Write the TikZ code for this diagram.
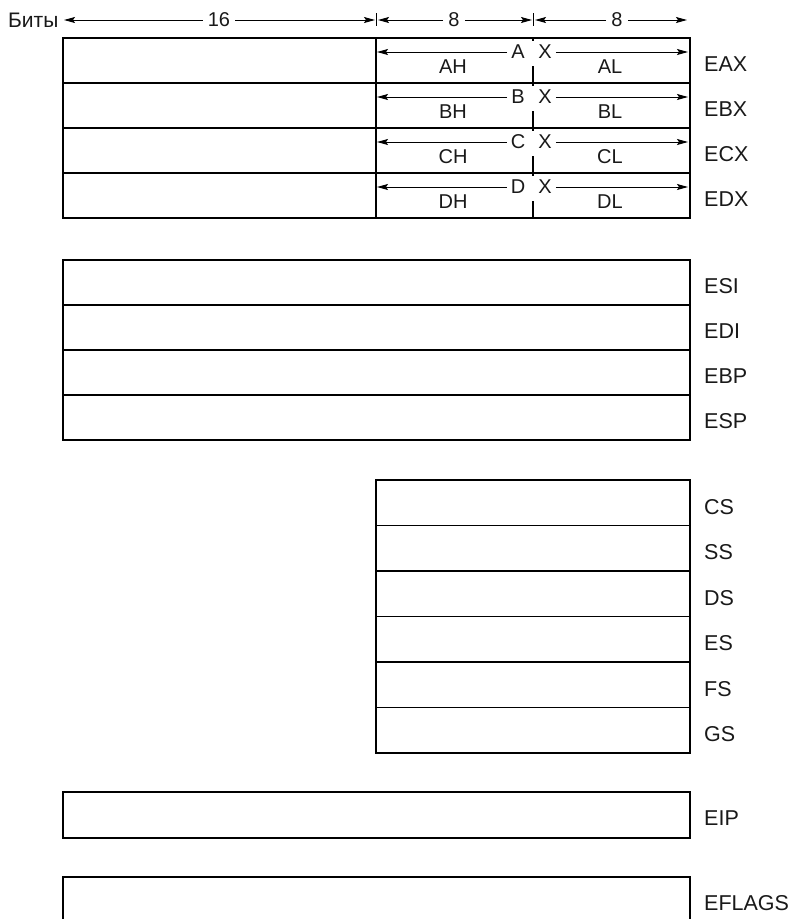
\documentclass[tikz,border=0pt]{standalone}
\usepackage{fontspec}
\setmainfont{Liberation Sans}
\usetikzlibrary{arrows.meta}
\begin{document}
\begin{tikzpicture}[x=1pt,y=-1pt,
  every node/.style={font=\fontsize{20}{24}\selectfont, text=black!90},
  reg/.style={draw, line width=1.2pt, anchor=north west, inner sep=0pt, outer sep=0pt, minimum width=627pt, minimum height=45pt},
  segreg/.style={reg, minimum width=314pt, minimum height=45.5pt},
  lbl/.style={anchor=west, inner sep=0pt, font=\fontsize{21.5}{25}\selectfont},
  gapnode/.style={inner xsep=5pt, inner ysep=0pt},
  letter/.style={inner xsep=4pt, inner ysep=0pt},
  dim/.style={line width=1pt, -{Stealth[length=11pt,width=6pt,inset=2pt]}},
  tick/.style={line width=1pt}]
\useasboundingbox (0,0) rectangle (791,919);

% header
\node[lbl, font=\fontsize{21}{25}\selectfont] (bits) at (8,20) {Биты};
\node[gapnode] (n16) at (219,20) {16};
\coordinate (h1l) at (64,20);
\coordinate (h1r) at (375,20);
\draw[dim] (n16.west) -- (h1l);
\draw[dim] (n16.east) -- (h1r);
\draw[tick] (376,13) -- (376,26);
\node[gapnode] (n8a) at (454,20) {8};
\coordinate (h2l) at (378,20);
\coordinate (h2r) at (532,20);
\draw[dim] (n8a.west) -- (h2l);
\draw[dim] (n8a.east) -- (h2r);
\draw[tick] (533,13) -- (533,26);
\node[gapnode] (n8b) at (617,20) {8};
\coordinate (h3l) at (535,20);
\coordinate (h3r) at (687,20);
\draw[dim] (n8b.west) -- (h3l);
\draw[dim] (n8b.east) -- (h3r);

% general registers
\foreach \r/\n [count=\i from 0] in {A/EAX, B/EBX, C/ECX, D/EDX} {
  \pgfmathsetmacro\t{38+45*\i}
  \node[reg] (\n) at (63,\t) {};
  \node[lbl] (\n-l) at (704,\t+26) {\n};
  \node[letter] (\r-h) at (518,\t+14) {\r};
  \node[letter] (\r-x) at (545,\t+14) {X};
  \coordinate (\r-ls) at (377,\t+14);
  \coordinate (\r-rs) at (688,\t+14);
  \draw[dim] (\r-h.west) -- (\r-ls);
  \draw[dim] (\r-x.east) -- (\r-rs);
  \node[inner sep=0pt] (\r-hi) at (453,\t+29) {\r H};
  \node[inner sep=0pt] (\r-lo) at (610,\t+29) {\r L};
  \draw[line width=1.2pt] (533,\t) -- (533,\t+3);
  \draw[line width=1.2pt] (533,\t+28) -- (533,\t+45);
}
\draw[line width=1.2pt] (376,38) -- (376,218);

% index registers
\foreach \n [count=\i from 0] in {ESI, EDI, EBP, ESP} {
  \pgfmathsetmacro\t{260+45*\i}
  \node[reg] (\n) at (63,\t) {};
  \node[lbl] (\n-l) at (704,\t+26) {\n};
}

% segment registers
\foreach \n [count=\i from 0] in {CS, SS, DS, ES, FS, GS} {
  \pgfmathsetmacro\t{480+45.5*\i}
  \node[segreg] (\n) at (376,\t) {};
  \node[lbl] (\n-l) at (704,\t+27) {\n};
}

% EIP, EFLAGS
\node[reg, minimum height=46pt] (EIP) at (63,792) {};
\node[lbl] (EIP-l) at (704,818) {EIP};
\node[reg, minimum height=60pt] (EFLAGS) at (63,877) {};
\node[lbl] (EFLAGS-l) at (704,903) {EFLAGS};
\end{tikzpicture}
\end{document}
